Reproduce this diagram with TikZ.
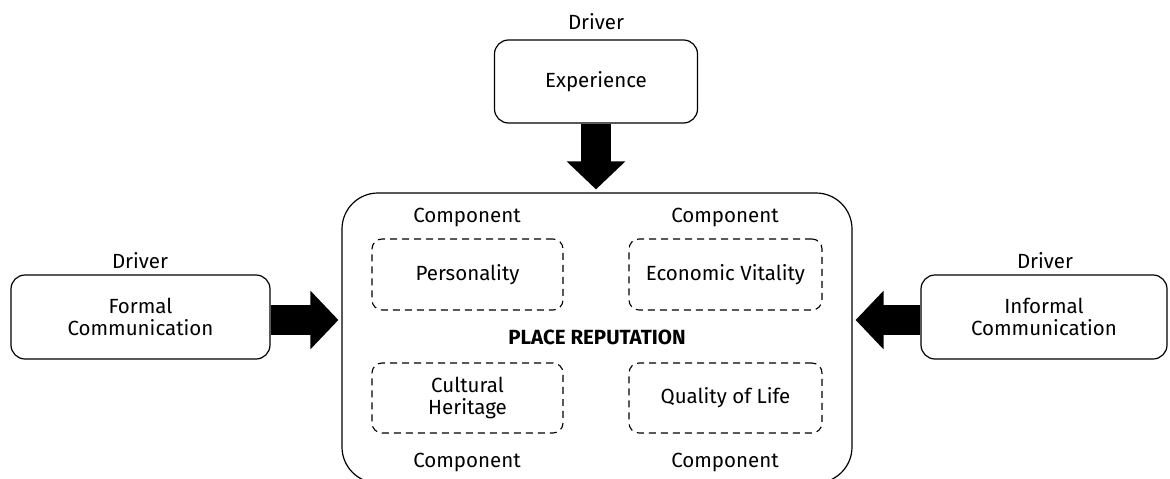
\documentclass[tikz,border=0pt]{standalone}
\usepackage{fontspec}
\setmainfont{Fira Sans}
\usetikzlibrary{arrows.meta}
\begin{document}
\begin{tikzpicture}[x=1pt,y=-1pt,
  lbl/.style={font=\fontsize{20.5}{22}\selectfont, align=center},
  driverbox/.style={draw, line width=1.2pt, rounded corners=14pt, lbl, inner sep=0pt},
  compbox/.style={draw, dashed, dash pattern=on 7pt off 5pt, line width=1.1pt, rounded corners=10pt, lbl, inner sep=0pt},
  bigarrow/.style={line width=30pt, -{Triangle[length=28pt,width=57pt]}, shorten >=3pt}
]
\useasboundingbox (0,0) rectangle (1170,479);
% main box (its bottom edge lies just below the picture)
\begin{scope}
\clip (0,0) rectangle (1170,479);
\node[draw, line width=1.2pt, rounded corners=36pt, minimum width=510pt, minimum height=290pt, inner sep=0pt] (main) at (597,338) {};
\end{scope}
\node[lbl, font=\fontsize{20.5}{22}\selectfont\bfseries] (pr) at (597,337) {PLACE REPUTATION};
% drivers
\node[driverbox, minimum width=203pt, minimum height=83pt] (exp) at (596,81.5) {Experience};
\node[lbl] (dexp) at (596,22) {Driver};
\node[driverbox, minimum width=259pt, minimum height=84pt] (formal) at (140.5,317) {Formal\\Communication};
\node[lbl] (dformal) at (140,261) {Driver};
\node[driverbox, minimum width=246pt, minimum height=84pt] (informal) at (1044,317) {Informal\\Communication};
\node[lbl] (dinformal) at (1045,261) {Driver};
% components
\node[compbox, minimum width=191pt, minimum height=71pt] (pers) at (467.5,274.5) {Personality};
\node[compbox, minimum width=191pt, minimum height=70pt] (cult) at (467.5,398) {Cultural\\Heritage};
\node[compbox, minimum width=193pt, minimum height=71pt] (econ) at (725.5,274.5) {Economic Vitality};
\node[compbox, minimum width=193pt, minimum height=70pt] (qol) at (725.5,398) {Quality of Life};
\node[lbl] (c1) at (467,217) {Component};
\node[lbl] (c2) at (725,217) {Component};
\node[lbl] (c3) at (467,462) {Component};
\node[lbl] (c4) at (725,462) {Component};
% arrows
\draw[bigarrow] (exp.south) -- (main.north -| exp.south);
\draw[bigarrow] (formal.east |- 0,320) -- (main.west |- 0,320);
\draw[bigarrow] (informal.west |- 0,320) -- (main.east |- 0,320);
\end{tikzpicture}
\end{document}
